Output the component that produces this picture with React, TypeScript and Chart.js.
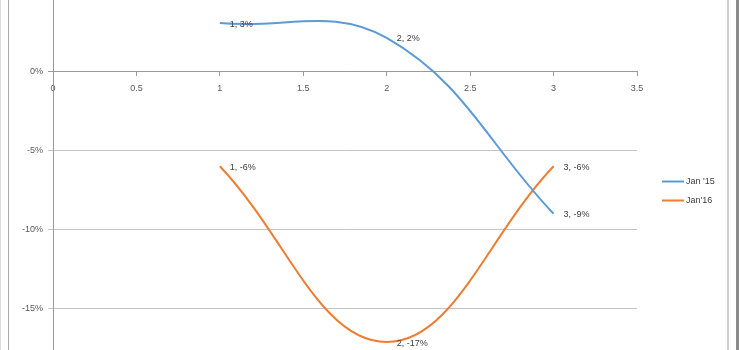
import React, { useEffect, useRef } from "react";
import { Chart, registerables } from "chart.js";

Chart.register(...registerables);

const xValues = [1, 2, 3];
const jan15 = [3.04, 2.1, -9.0];
const jan16 = [-6.0, -17.1, -6.0];
const seriesNames = ["Jan '15", "Jan'16"];
const seriesColors = ["#5b9bd5", "#ed7d31"];
const yTicksMin = -20;
const yTicksMax = 5;
const xTicksMax = 3.5;

const FONT = "'Liberation Sans', Arial, sans-serif";
const CANVAS_W = 740;
const CANVAS_H = 440;
const CANVAS_TOP = -30;

const labelPlugin = {
  id: "pointLabels",
  afterDatasetsDraw(chart: any) {
    const ctx = chart.ctx;
    ctx.save();
    ctx.font = `9px ${FONT}`;
    ctx.fillStyle = "#404040";
    ctx.textAlign = "left";
    ctx.textBaseline = "middle";
    chart.data.datasets.forEach((ds: any, i: number) => {
      const meta = chart.getDatasetMeta(i);
      meta.data.forEach((el: any, j: number) => {
        const p = ds.data[j];
        const txt = `${p.x}, ${Math.round(p.y)}%`;
        ctx.fillText(txt, el.x + 10, el.y + 1);
      });
    });
    ctx.restore();
  },
};

const legendPlugin = {
  id: "sideLegend",
  afterDraw(chart: any) {
    const ctx = chart.ctx;
    const area = chart.chartArea;
    ctx.save();
    ctx.font = `9px ${FONT}`;
    ctx.textAlign = "left";
    ctx.textBaseline = "middle";
    const n = chart.data.datasets.length;
    const gap = 19;
    const cy = (area.top + area.bottom) / 2;
    const startY = cy - ((n - 1) * gap) / 2;
    const x0 = area.right + 25;
    chart.data.datasets.forEach((ds: any, i: number) => {
      const y = Math.round(startY + i * gap) + 0.5;
      ctx.strokeStyle = ds.borderColor;
      ctx.lineWidth = 2;
      ctx.beginPath();
      ctx.moveTo(x0, y);
      ctx.lineTo(x0 + 22, y);
      ctx.stroke();
      ctx.fillStyle = "#404040";
      ctx.fillText(ds.label, x0 + 24, y);
    });
    ctx.restore();
  },
};

export default function App() {
  const ref = useRef<HTMLCanvasElement | null>(null);

  useEffect(() => {
    if (!ref.current) return;
    const mk = (vals: number[]) => xValues.map((x, i) => ({ x, y: vals[i] }));
    const chart = new Chart(ref.current, {
      type: "scatter",
      data: {
        datasets: [
          {
            label: seriesNames[0],
            data: mk(jan15),
            borderColor: seriesColors[0],
            backgroundColor: seriesColors[0],
            showLine: true,
            tension: 0.4,
            borderWidth: 2,
            pointRadius: 0,
          },
          {
            label: seriesNames[1],
            data: mk(jan16),
            borderColor: seriesColors[1],
            backgroundColor: seriesColors[1],
            showLine: true,
            tension: 0.4,
            borderWidth: 2,
            pointRadius: 0,
          },
        ],
      },
      options: {
        responsive: false,
        animation: false,
        layout: { padding: { top: 22, bottom: 22, left: 0, right: 103 } },
        plugins: {
          legend: { display: false },
          tooltip: { enabled: false },
        },
        scales: {
          x: {
            type: "linear",
            min: 0,
            max: xTicksMax,
            position: { y: 0 } as any,
            afterFit: (s: any) => {
              s.height = 0;
            },
            ticks: {
              stepSize: 0.5,
              color: "#595959",
              font: { family: FONT, size: 9 },
              padding: 8,
              maxRotation: 0,
              autoSkip: false,
              callback: (v: any) => String(Number(v)),
            },
            grid: {
              drawOnChartArea: false,
              drawTicks: true,
              tickLength: 4,
              color: "#9a9a9a",
            },
            border: { color: "#9a9a9a", width: 1 },
          },
          y: {
            type: "linear",
            min: yTicksMin,
            max: yTicksMax,
            afterFit: (s: any) => {
              s.width = 53;
            },
            ticks: {
              stepSize: 5,
              color: "#595959",
              font: { family: FONT, size: 9 },
              padding: 5,
              callback: (v: any) => `${v}%`,
            },
            grid: {
              color: (c: any) => (c.tick && c.tick.value === 0 ? "#9a9a9a" : "#c4c4c4"),
              tickLength: 5,
              drawTicks: true,
            },
            border: { color: "#9a9a9a", width: 1 },
          },
        },
      },
      plugins: [labelPlugin, legendPlugin],
    });
    return () => chart.destroy();
  }, []);

  return (
    <div
      style={{
        position: "fixed",
        left: 0,
        top: 0,
        width: 740,
        height: 350,
        overflow: "hidden",
        background: "#ffffff",
      }}
    >
      <canvas
        ref={ref}
        width={CANVAS_W}
        height={CANVAS_H}
        style={{ position: "absolute", left: 0, top: CANVAS_TOP, width: CANVAS_W, height: CANVAS_H }}
      />
      <div style={{ position: "absolute", left: 0, top: 0, width: 1, height: 350, background: "#dcdcdc" }} />
      <div style={{ position: "absolute", left: 8, top: 0, width: 1, height: 350, background: "#a8a8a8" }} />
      <div style={{ position: "absolute", left: 727, top: 0, width: 2, height: 350, background: "#d2d2d2" }} />
      <div style={{ position: "absolute", left: 736, top: 0, width: 3, height: 350, background: "#8a8a8a" }} />
    </div>
  );
}
